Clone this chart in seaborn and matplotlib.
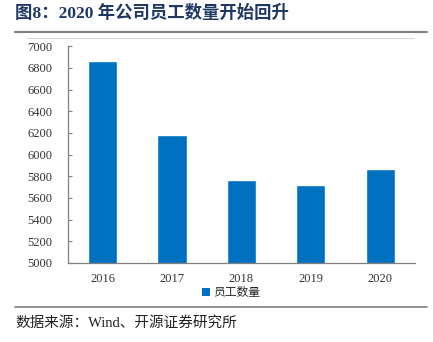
import matplotlib
matplotlib.use("Agg")
import matplotlib.pyplot as plt
import seaborn as sns
import pandas as pd
from matplotlib.lines import Line2D
from matplotlib.patches import Patch

years = ["2016", "2017", "2018", "2019", "2020"]
employees = [6860, 6180, 5765, 5720, 5870]
yticks = [5000, 5200, 5400, 5600, 5800, 6000, 6200, 6400, 6600, 6800, 7000]
series_name = "员工数量"
title = "图8：2020 年公司员工数量开始回升"
source = "数据来源：Wind、开源证券研究所"

sns.set_theme(style="white")
plt.rcParams['font.family'] = ['Liberation Serif', 'Noto Sans CJK SC', 'DejaVu Sans']

df = pd.DataFrame({"year": years, "value": employees})

fig = plt.figure(figsize=(4.33, 3.42), dpi=100)
ax = fig.add_axes([0.157, 0.231, 0.801, 0.634])
sns.barplot(data=df, x="year", y="value", color="#0070C0", width=0.42,
            saturation=1, ax=ax)
ax.set_ylim(5000, 7000)
ax.set_xlim(-0.5, 4.5)
ax.set_yticks(yticks)
ax.set_yticklabels([str(v) for v in yticks], fontsize=9)
ax.set_xlabel("")
ax.set_ylabel("")
ax.tick_params(axis="x", length=0, labelsize=9, pad=7)
ax.set_xticks([i + 0.5 for i in range(len(years) - 1)], minor=True)
ax.tick_params(axis="x", which="minor", direction="in", length=3, color="#808080", width=0.8)
ax.tick_params(axis="y", direction="in", length=3, color="#808080", width=0.8, pad=11, left=True)
for lab in ax.get_xticklabels() + ax.get_yticklabels():
    lab.set_color("#333333")
for s in ["top", "right"]:
    ax.spines[s].set_visible(False)
for s in ["left", "bottom"]:
    ax.spines[s].set_color("#808080")
    ax.spines[s].set_linewidth(0.9)

handle = Patch(facecolor="#0070C0", edgecolor="none", label=series_name)
leg = ax.legend(handles=[handle], loc="center", bbox_to_anchor=(0.47, -0.135),
                frameon=False, handlelength=0.7, handleheight=0.7, handletextpad=0.2,
                prop={"family": ["Noto Sans CJK SC"], "size": 8.5})

fig.text(15/433, 1 - 13/342, title, fontsize=12.5, fontweight="bold", color="#1F3864",
         va="center", ha="left", family=['Liberation Serif', 'Noto Sans CJK SC'])
fig.add_artist(Line2D([15/433, 427/433], [1 - 31.5/342, 1 - 31.5/342], color="#7f7f7f", lw=1.5))
fig.add_artist(Line2D([27/433, 414/433], [1 - 38.3/342, 1 - 38.3/342], color="#d9d9d9", lw=0.8))
fig.add_artist(Line2D([15/433, 427/433], [1 - 307/342, 1 - 307/342], color="#7f7f7f", lw=1.2))
fig.text(15/433, 1 - 323/342, source, fontsize=10.5, color="#222222", va="center", ha="left",
         family=['Liberation Serif', 'Noto Sans CJK SC'])

fig.savefig("out.png", dpi=100)
